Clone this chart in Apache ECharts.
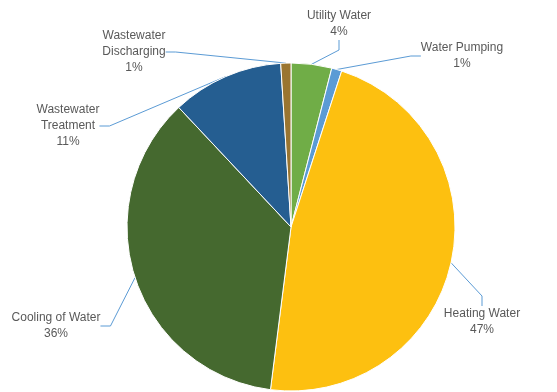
<!DOCTYPE html>
<html>
<head>
<meta charset="utf-8">
<script src="https://cdn.jsdelivr.net/npm/echarts@6/dist/echarts.min.js"></script>
<style>
  html, body { margin: 0; padding: 0; background: #fff; }
  #chart { width: 557px; height: 392px; }
</style>
</head>
<body>
<div id="chart"></div>
<script>
const categories = ['Utility Water', 'Water Pumping', 'Heating Water', 'Cooling of Water', 'Wastewater\nTreatment', 'Wastewater\nDischarging']
const shares = [4, 1, 47, 36, 11, 1]
const sliceColors = ['#70AD47', '#5B9BD5', '#FDC010', '#45692F', '#255E91', '#9A7530']

// where each label block sits (centre of the text)
const labelSpots = [
  [339, 24], [462, 56], [482, 322], [56, 326], [68, 126], [134, 52]
]

const chart = echarts.init(document.getElementById('chart'))

chart.setOption({
  backgroundColor: '#fff',
  animation: false,
  series: [
    {
      type: 'pie',
      center: [291, 227],
      radius: 164,
      startAngle: 90,
      clockwise: true,
      data: categories.map((name, i) => ({
        name: name,
        value: shares[i],
        itemStyle: { color: sliceColors[i] }
      })),
      itemStyle: { borderColor: '#fff', borderWidth: 1 },
      label: {
        show: true,
        formatter: '{b}\n{d}%',
        color: '#595959',
        fontFamily: 'Liberation Sans, Arial, sans-serif',
        fontSize: 12,
        lineHeight: 16,
        align: 'center',
        overflow: 'none'
      },
      labelLine: {
        show: true,
        length: 10,
        length2: 10,
        lineStyle: { color: '#5B9BD5', width: 1 }
      },
      labelLayout: function (p) {
        const s = labelSpots[p.dataIndex]
        return { x: s[0], y: s[1], align: 'center', verticalAlign: 'middle' }
      }
    }
  ]
})
</script>
</body>
</html>
